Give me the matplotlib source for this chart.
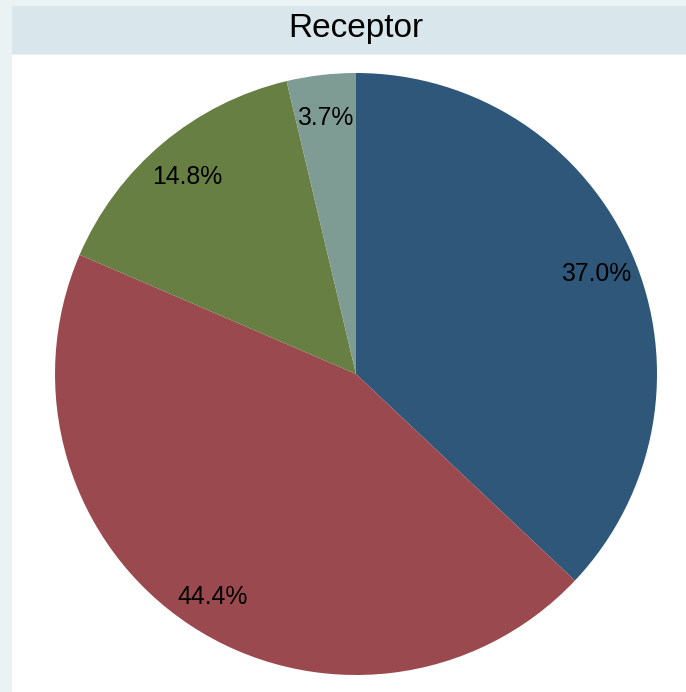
import matplotlib.pyplot as plt
from matplotlib.patches import Rectangle

# shares of the 27 receptors, clockwise from 12 o'clock
labels = ['A', 'B', 'C', 'D']
counts = [10, 12, 4, 1]
colors = ['#2f5779', '#9a4a4f', '#677f42', '#7f9c94']

W, H = 686, 692
fig = plt.figure(figsize=(W / 100, H / 100), dpi=100)
fig.patch.set_facecolor('#eaf2f3')

# white plot region
x0, top = 12, 55
ax = fig.add_axes([x0 / W, 0, (W - x0) / W, (H - top) / H])

# title bar
fig.patches.append(Rectangle((x0 / W, (H - 54) / H), (W - x0) / W, 48 / H,
                             transform=fig.transFigure, facecolor='#d9e6eb',
                             edgecolor='none', zorder=0))
fig.text(356 / W, (H - 37.3) / H, 'Receptor', ha='center', va='baseline',
         fontsize=24, family='Liberation Sans')

wedges, texts, autotexts = ax.pie(
    counts, colors=colors, startangle=90, counterclock=False,
    autopct='%1.1f%%', pctdistance=0.87,
    wedgeprops=dict(linewidth=0, edgecolor='none'),
    textprops=dict(fontsize=17.8, family='Liberation Sans', color='black'))

# center of pie at (356, 374) px from top-left, radius 301 px
cx, cy, r = 356, 374, 301
for t in autotexts:
    x, y = t.get_position()
    t.set_position((x, y - 4 / r))

ax.set_xlim((x0 - cx) / r, (W - cx) / r)
ax.set_ylim((0 - (H - cy)) / r, ((H - top) - (H - cy)) / r)
ax.set_aspect('auto')
ax.set_frame_on(True)
ax.set_facecolor('white')
for s in ax.spines.values():
    s.set_visible(False)
ax.set_xticks([])
ax.set_yticks([])

fig.savefig('out.png', dpi=100, facecolor=fig.get_facecolor())
